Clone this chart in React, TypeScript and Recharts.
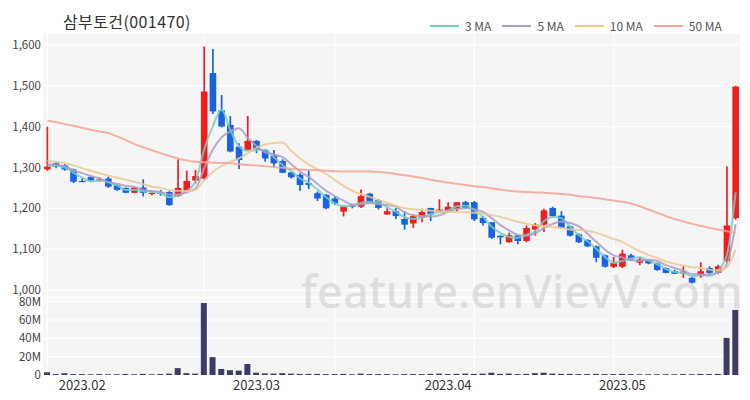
import React from 'react';
import { ComposedChart, BarChart, Bar, Line, XAxis, YAxis, CartesianGrid } from 'recharts';

const dates = [
  '2023-01-26','2023-01-27','2023-01-30','2023-01-31',
  '2023-02-01','2023-02-02','2023-02-03','2023-02-06','2023-02-07','2023-02-08','2023-02-09','2023-02-10',
  '2023-02-13','2023-02-14','2023-02-15','2023-02-16','2023-02-17','2023-02-20','2023-02-21','2023-02-22',
  '2023-02-23','2023-02-24','2023-02-27','2023-02-28',
  '2023-03-02','2023-03-03','2023-03-06','2023-03-07','2023-03-08','2023-03-09','2023-03-10','2023-03-13',
  '2023-03-14','2023-03-15','2023-03-16','2023-03-17','2023-03-20','2023-03-21','2023-03-22','2023-03-23',
  '2023-03-24','2023-03-27','2023-03-28','2023-03-29','2023-03-30','2023-03-31',
  '2023-04-03','2023-04-04','2023-04-05','2023-04-06','2023-04-07','2023-04-10','2023-04-11','2023-04-12',
  '2023-04-13','2023-04-14','2023-04-17','2023-04-18','2023-04-19','2023-04-20','2023-04-21','2023-04-24',
  '2023-04-25','2023-04-26','2023-04-27','2023-04-28',
  '2023-05-02','2023-05-03','2023-05-04','2023-05-08','2023-05-09','2023-05-10','2023-05-11','2023-05-12',
  '2023-05-15','2023-05-16','2023-05-17','2023-05-18','2023-05-19','2023-05-22',
];

const opens = [
  1295,1310,1305,1295,1267,1277,1268,1273,1256,1250,1238,1251,1236,1239,1240,1230,1241,1268,1273,1531,
  1440,1404,1351,1343,1365,1343,1328,1316,1288,1282,1262,1237,1233,1224,1192,1207,1204,1236,1220,1185,
  1193,1174,1163,1177,1201,1192,1193,1199,1215,1215,1177,1166,1133,1117,1134,1120,1148,1160,1201,1182,
  1156,1136,1122,1107,1085,1057,1057,1085,1067,1073,1065,1054,1046,1041,1030,1034,1054,1042,1071,1176,
];
const highs = [
  1400,1312,1308,1297,1273,1279,1276,1278,1258,1251,1252,1271,1239,1245,1242,1320,1292,1294,1596,1590,
  1477,1426,1359,1426,1367,1345,1343,1320,1289,1286,1292,1241,1235,1229,1206,1209,1246,1238,1223,1201,
  1201,1193,1185,1199,1201,1222,1215,1215,1218,1218,1181,1166,1134,1140,1134,1158,1164,1199,1204,1193,
  1158,1138,1124,1109,1087,1081,1099,1089,1081,1075,1067,1055,1050,1058,1033,1068,1058,1062,1303,1500,
];
const lows = [
  1292,1298,1292,1262,1264,1266,1265,1250,1243,1237,1237,1229,1232,1231,1206,1228,1237,1261,1270,1431,
  1398,1337,1296,1341,1335,1314,1302,1286,1273,1243,1247,1218,1198,1208,1180,1200,1201,1212,1197,1184,
  1174,1148,1152,1166,1169,1190,1189,1193,1199,1169,1158,1125,1112,1116,1112,1117,1133,1142,1179,1150,
  1131,1115,1105,1068,1055,1054,1054,1071,1061,1063,1047,1041,1039,1030,1016,1030,1036,1040,1067,1172,
];
const closes = [
  1302,1302,1295,1265,1265,1268,1271,1253,1245,1238,1251,1238,1238,1236,1208,1250,1267,1279,1486,1437,
  1400,1339,1318,1365,1343,1322,1310,1287,1276,1257,1257,1224,1200,1212,1204,1204,1230,1213,1201,1193,
  1181,1160,1181,1191,1185,1197,1204,1215,1201,1173,1164,1128,1129,1134,1120,1152,1160,1195,1181,1152,
  1133,1117,1107,1079,1057,1066,1089,1075,1075,1065,1049,1042,1040,1045,1018,1046,1042,1058,1158,1498,
];
// volume in millions of shares
const volumes = [
  3,1,1.8,1,1,0.8,1,0.8,0.8,1,0.8,1.2,0.8,1,1.5,7.5,2,1.5,78.5,19.5,
  6.6,5.2,4.8,12,2.5,1.8,1.5,2,1.5,1.2,1.2,1.2,1,1,1.2,0.8,1.5,1,1,1,
  0.8,1,1,1,1.2,1.5,1,1.2,1.5,1.2,1.5,2.5,1.2,1.5,1,1.2,2,2.5,1.5,1.2,
  1.2,1,1,1.2,1,1,1.2,1,0.8,0.8,0.8,0.8,0.8,1,0.8,1.2,1,1.2,40.5,71,
];
const ma3 = [
  1305,1304,1300,1287,1275,1266,1268,1264,1256,1245,1245,1242,1242,1237,1227,1231,1242,1265,1344,1401,
  1441,1392,1352,1341,1342,1343,1325,1306,1291,1273,1263,1246,1227,1212,1205,1207,1213,1216,1215,1202,
  1192,1178,1174,1177,1186,1191,1195,1205,1207,1196,1179,1155,1140,1130,1128,1135,1144,1169,1179,1176,
  1155,1134,1119,1101,1081,1067,1071,1077,1080,1072,1063,1052,1044,1042,1034,1036,1035,1049,1086,1239,
];
const ma5 = [
  1308,1306,1303,1293,1286,1279,1273,1264,1260,1255,1252,1245,1242,1240,1234,1234,1240,1248,1298,1344,
  1374,1388,1396,1372,1353,1337,1332,1325,1308,1290,1277,1260,1243,1230,1219,1209,1210,1213,1210,1208,
  1204,1190,1183,1181,1180,1183,1192,1198,1200,1198,1191,1176,1159,1146,1135,1133,1139,1152,1162,1168,
  1164,1156,1138,1118,1099,1085,1080,1073,1072,1074,1071,1061,1054,1048,1039,1038,1038,1042,1064,1161,
];
const ma10 = [
  1316,1314,1311,1305,1298,1292,1286,1280,1275,1270,1265,1259,1253,1250,1245,1243,1242,1245,1269,1289,
  1304,1314,1322,1335,1348,1356,1360,1361,1340,1322,1307,1296,1284,1269,1255,1243,1235,1228,1220,1214,
  1206,1200,1198,1196,1194,1193,1191,1191,1191,1189,1187,1184,1179,1173,1167,1162,1158,1156,1154,1152,
  1148,1147,1145,1140,1133,1125,1118,1106,1095,1086,1078,1070,1064,1060,1056,1054,1050,1048,1056,1100,
];
const ma50 = [
  1415,1411,1406,1402,1397,1392,1388,1384,1376,1367,1357,1349,1342,1335,1328,1322,1317,1314,1313,1312,
  1311,1310,1308,1306,1305,1303,1301,1299,1297,1295,1294,1293,1292,1291,1290,1290,1290,1290,1289,1287,
  1284,1281,1278,1274,1270,1266,1263,1260,1257,1254,1252,1249,1246,1243,1241,1240,1239,1238,1237,1235,
  1233,1230,1228,1225,1222,1219,1216,1212,1205,1197,1189,1181,1174,1168,1162,1157,1152,1148,1144,1140,
];

const priceTicks = [1000, 1100, 1200, 1300, 1400, 1500, 1600];
const volumeTicks = [0, 20, 40, 60, 80];
const monthTickDates = ['2023-02-01', '2023-03-02', '2023-04-03', '2023-05-02'];
const monthTickLabels = ['2023.02', '2023.03', '2023.04', '2023.05'];
const gridDates = ['2023-01-26', '2023-02-21', '2023-03-15', '2023-04-06', '2023-04-28'];

const seriesNames = ['3 MA', '5 MA', '10 MA', '50 MA'];
const seriesKeys = ['ma3', 'ma5', 'ma10', 'ma50'];
const seriesColors = ['#74cdc6', '#ab9dc2', '#ecc894', '#f4a394'];

const RED = '#f21c1c';
const BLUE = '#1763e3';
const VOL = '#3d3c66';
const FONT = "'Noto Sans CJK KR', 'Noto Sans', sans-serif";

const rows = dates.map((d, i) => ({
  date: d,
  open: opens[i],
  high: highs[i],
  low: lows[i],
  close: closes[i],
  range: [lows[i], highs[i]],
  volume: volumes[i] * 1e6,
  ma3: ma3[i],
  ma5: ma5[i],
  ma10: ma10[i],
  ma50: ma50[i],
}));

const Candle = (props: any) => {
  const { x, y, width, height, payload } = props;
  if (x == null || y == null) return <g />;
  const { open, close, high, low } = payload;
  const up = close >= open;
  const color = up ? RED : BLUE;
  const ratio = high === low ? 0 : height / (high - low);
  const bodyTop = y + (high - Math.max(open, close)) * ratio;
  const bodyH = Math.max(Math.abs(open - close) * ratio, 1.2);
  const cx = x + width / 2;
  const bw = 6.6;
  return (
    <g>
      <line x1={cx} x2={cx} y1={y} y2={y + height} stroke={color} strokeWidth={1.7} />
      <rect x={cx - bw / 2} y={bodyTop} width={bw} height={bodyH} fill={color} />
    </g>
  );
};

// vertical grid lines at the centres of the given category slots
const verticalGen = (args: any) => {
  const off = args && args.offset;
  if (!off || typeof off.left !== 'number' || typeof off.width !== 'number') return [];
  const band = off.width / dates.length;
  return gridDates
    .map((d) => dates.indexOf(d))
    .filter((k) => k >= 0)
    .map((k) => off.left + band * (k + 0.5));
};

const labelFor = (d: string) => {
  const k = monthTickDates.indexOf(d);
  return k >= 0 ? monthTickLabels[k] : '';
};

export default function App() {
  return (
    <div style={{ position: 'absolute', left: 0, top: 0, width: 750, height: 400, background: '#fff', fontFamily: FONT, overflow: 'hidden' }}>
      <div style={{ position: 'absolute', left: 63, top: 9, fontSize: 16, letterSpacing: '0.4px', color: '#333', lineHeight: '24px', whiteSpace: 'nowrap' }}>
        삼부토건(001470)
      </div>
      <div style={{ position: 'absolute', left: 0, top: 0 }}>
        <ComposedChart width={750} height={400} data={rows} margin={{ top: 33, right: 10, bottom: 103, left: 0 }}>
          <CartesianGrid
            fill="#f5f5f5"
            stroke="#ffffff"
            strokeWidth={1.2}
            verticalCoordinatesGenerator={verticalGen}
          />
          <XAxis dataKey="date" hide />
          <YAxis
            domain={[983, 1629]}
            ticks={priceTicks}
            width={43}
            tickSize={0}
            tickMargin={2}
            axisLine={false}
            tickLine={false}
            interval={0}
            tick={{ fontSize: 11.5, fill: '#444', fontFamily: FONT }}
            tickFormatter={(v: number) => v.toLocaleString('en-US')}
          />
          <Bar dataKey="range" shape={Candle} isAnimationActive={false} />
          {seriesKeys.map((k, i) => (
            <Line
              key={k}
              type="monotone"
              dataKey={k}
              stroke={seriesColors[i]}
              strokeWidth={2}
              strokeOpacity={0.85}
              dot={false}
              activeDot={false}
              isAnimationActive={false}
            />
          ))}
        </ComposedChart>
      </div>
      <div style={{ position: 'absolute', left: 0, top: 0 }}>
        <BarChart width={750} height={400} data={rows} margin={{ top: 298, right: 10, bottom: 0, left: 0 }}>
          <CartesianGrid
            fill="#f5f5f5"
            stroke="#ffffff"
            strokeWidth={1.2}
            verticalCoordinatesGenerator={verticalGen}
          />
          <XAxis
            dataKey="date"
            ticks={monthTickDates}
            interval={0}
            height={25}
            tickSize={0}
            tickMargin={6}
            axisLine={false}
            tickLine={false}
            tick={{ fontSize: 13, fill: '#333', fontFamily: FONT }}
            tickFormatter={labelFor}
          />
          <YAxis
            domain={[0, 84e6]}
            ticks={volumeTicks.map((v) => v * 1e6)}
            width={43}
            tickSize={0}
            tickMargin={2}
            axisLine={false}
            tickLine={false}
            interval={0}
            tick={{ fontSize: 11.5, fill: '#444', fontFamily: FONT }}
            tickFormatter={(v: number) => (v === 0 ? '0' : `${v / 1e6}M`)}
          />
          <Bar dataKey="volume" fill={VOL} barSize={6} isAnimationActive={false} />
        </BarChart>
      </div>
      <div style={{ position: 'absolute', left: 430, top: 17, display: 'flex', alignItems: 'center', fontSize: 12, color: '#555', whiteSpace: 'nowrap' }}>
        {seriesNames.map((n, i) => (
          <div key={n} style={{ display: 'flex', alignItems: 'center', marginRight: i === 3 ? 0 : 11 }}>
            <svg width={29} height={4} style={{ marginRight: 6 }}>
              <line x1={0} x2={29} y1={2} y2={2} stroke={seriesColors[i]} strokeWidth={2} />
            </svg>
            <span>{n}</span>
          </div>
        ))}
      </div>
      <div style={{ position: 'absolute', left: 301, top: 261, fontSize: 45, fontWeight: 500, fontFamily: "'Noto Sans', sans-serif", color: 'rgba(205,205,205,0.6)', whiteSpace: 'nowrap', pointerEvents: 'none', lineHeight: '60px' }}>
        feature.enVievV.com
      </div>
    </div>
  );
}
